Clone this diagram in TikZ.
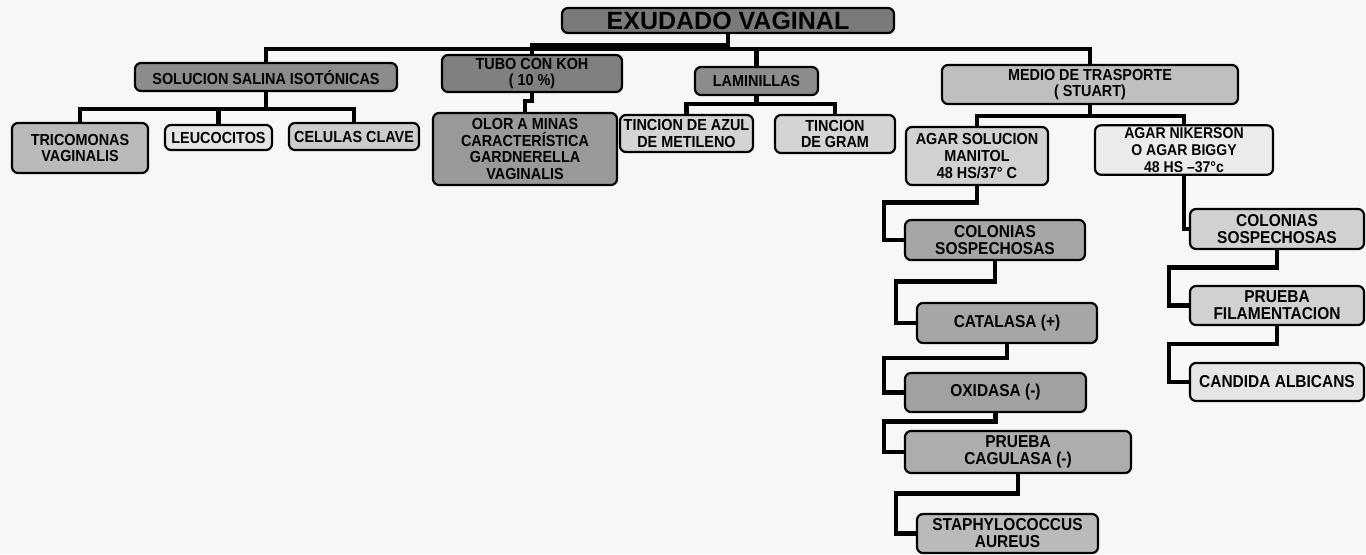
\documentclass[tikz,border=0pt]{standalone}
\usepackage{fontspec}
\setmainfont{Liberation Sans}[FakeStretch=0.9]
\newfontfamily\titlefont{Liberation Sans}
\usetikzlibrary{calc}
\tikzset{
    box/.style={rectangle, rounded corners=3pt, draw, line width=1.1pt, align=center, inner sep=1pt, font=\bfseries\fontsize{8}{8.4}\selectfont},
    lowbox/.style={box, font=\bfseries\fontsize{8.6}{8.5}\selectfont},
    titlebox/.style={box, inner sep=0pt, font=\titlefont\bfseries\fontsize{12.5}{14}\selectfont},
    link/.style={line width=2.2pt}
}

\begin{document}
\begin{tikzpicture}[x=0.5pt, y=-0.5pt]
    \fill[black!3] (0,0) rectangle (1366,554);
    \useasboundingbox (0,0) rectangle (1366,554);

    % top level
    \node[titlebox, fill=black!52, minimum width=166pt, minimum height=12.5pt] (root) at (728,20.5) {EXUDADO VAGINAL};

    \node[box, fill=black!45, minimum width=131pt, minimum height=14pt] (sol) at (266,77) {SOLUCION SALINA ISOTÓNICAS};
    \node[box, fill=black!50, minimum width=90pt, minimum height=18.5pt] (tubo) at (532,73.5) {TUBO CON KOH\\( 10 \%)};
    \node[box, fill=black!45, minimum width=61.5pt, minimum height=14pt] (lam) at (756.5,81) {LAMINILLAS};
    \node[box, fill=black!25, minimum width=148pt, minimum height=19.5pt] (medio) at (1090,84.5) {MEDIO DE TRASPORTE\\( STUART)};

    % second level
    \node[box, fill=black!27, minimum width=68pt, minimum height=25pt] (tric) at (80,148) {TRICOMONAS\\VAGINALIS};
    \node[box, fill=black!10, minimum width=53.5pt, minimum height=12.5pt] (leu) at (218.5,137.5) {LEUCOCITOS};
    \node[box, fill=black!20, minimum width=65pt, minimum height=13.5pt] (cel) at (354,136.5) {CELULAS CLAVE};
    \node[box, fill=black!40, minimum width=92pt, minimum height=36pt] (olor) at (525,149) {OLOR A MINAS\\CARACTERÍSTICA\\GARDNERELLA\\VAGINALIS};
    \node[box, fill=black!17, minimum width=66.5pt, minimum height=18.5pt] (azul) at (686.5,133.5) {TINCION DE AZUL\\DE METILENO};
    \node[box, fill=black!17, minimum width=60pt, minimum height=19pt] (gram) at (835,134) {TINCION\\DE GRAM};
    \node[box, fill=black!18, minimum width=71pt, minimum height=29pt, font=\bfseries\fontsize{8}{8.7}\selectfont] (agarS) at (977,156) {AGAR SOLUCION\\MANITOL\\48 HS/37° C};
    \node[box, fill=black!8, minimum width=89pt, minimum height=23.5pt, font=\bfseries\fontsize{7.8}{8.6}\selectfont] (nik) at (1184,150) {AGAR NIKERSON\\O AGAR BIGGY\\48 HS –37°c};

    % left chain
    \node[lowbox, fill=black!35, minimum width=90pt, minimum height=20pt] (colL) at (995,240) {COLONIAS\\SOSPECHOSAS};
    \node[lowbox, fill=black!35, minimum width=90pt, minimum height=20pt] (cat) at (1007,323) {CATALASA (+)};
    \node[lowbox, fill=black!37, minimum width=90.5pt, minimum height=19.5pt] (oxi) at (995.5,392.5) {OXIDASA (-)};
    \node[lowbox, fill=black!32, minimum width=113pt, minimum height=21pt] (cag) at (1018,452) {PRUEBA\\CAGULASA (-)};
    \node[lowbox, fill=black!27, minimum width=90.5pt, minimum height=19.5pt] (sta) at (1007.5,533.5) {STAPHYLOCOCCUS\\AUREUS};

    % right chain
    \node[lowbox, fill=black!18, minimum width=87pt, minimum height=20pt] (colR) at (1277,229) {COLONIAS\\SOSPECHOSAS};
    \node[lowbox, fill=black!18, minimum width=87pt, minimum height=19.5pt] (fil) at (1277,305.5) {PRUEBA\\FILAMENTACION};
    \node[lowbox, fill=black!10, minimum width=87pt, minimum height=19pt] (cand) at (1277,382) {CANDIDA ALBICANS};

    % connectors
    \foreach \c in {sol,lam,medio}
        \draw[link] (root.south) -- ++(0,15) -| (\c.north);
    \draw[link] (root.south) -- ++(0,11) -| (tubo.north);
    \foreach \c in {tric,leu,cel}
        \draw[link] (sol.south) -- ++(0,17) -| (\c.north);
    \foreach \c in {azul,gram}
        \draw[link] (lam.south) -- ++(0,8) -| (\c.north);
    \foreach \c in {agarS,nik}
        \draw[link] (medio.south) -- ++(0,11) -| (\c.north);
    \draw[link] (tubo.south) -- ++(0,8) -| (olor.north);
    \draw[link] (nik.south) |- (colR.west);
    \foreach \a/\b in {agarS/colL, colL/cat, cat/oxi, oxi/cag, cag/sta, colR/fil, fil/cand}
        \draw[link] (\a.south) -- ($(\a.south)!.5!(\a.south |- \b.north)$) -| ([xshift=-10pt]\b.west) -- (\b.west);
\end{tikzpicture}
\end{document}
